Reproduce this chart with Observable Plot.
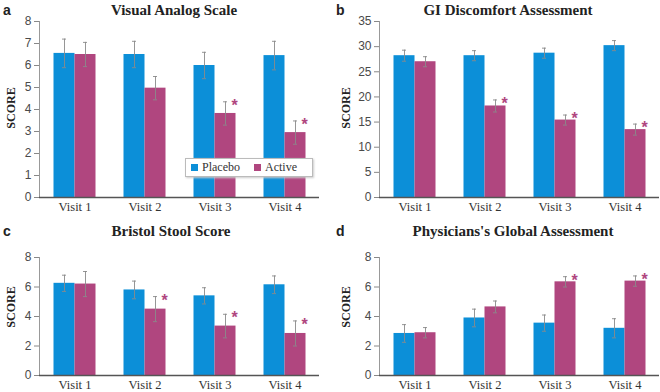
<!DOCTYPE html>
<html><head><meta charset="utf-8">
<script src="https://cdn.jsdelivr.net/npm/d3@7"></script>
<script src="https://cdn.jsdelivr.net/npm/@observablehq/plot@0.6"></script>
<style>
body{margin:0;background:#fff;}
#wrap{position:relative;width:660px;height:392px;overflow:hidden;background:#fff;}
.panel{position:absolute;}
.title{position:absolute;font:bold 15px "Liberation Serif",serif;color:#222;transform:translate(-50%,-50%);white-space:nowrap;}
.letter{position:absolute;font:bold 14px "Liberation Sans",sans-serif;color:#222;transform:translateY(-50%);}
.ylab{position:absolute;font:bold 12px "Liberation Serif",serif;color:#222;transform:translate(-50%,-50%) rotate(-90deg);white-space:nowrap;}
.legend{position:absolute;left:185px;top:158px;width:126px;height:17px;background:#fff;border:1px solid #bbb;box-shadow:1px 1px 2px #ccc;font:12px "Liberation Serif",serif;color:#333;display:flex;align-items:center;}
.legend span.sw{display:inline-block;width:7px;height:7px;margin:0 4px 0 5px;}
</style></head><body><div id="wrap"></div><script>
const visits = ["Visit 1","Visit 2","Visit 3","Visit 4"];
const groups = ["Placebo","Active"];
const colors = ["#0c8fd8","#b0467f"];

// a: Visual Analog Scale
const vasPlacebo = [6.55, 6.5, 6.0, 6.45];
const vasPlaceboErr = [0.65, 0.6, 0.6, 0.65];
const vasActive = [6.5, 4.97, 3.82, 2.95];
const vasActiveErr = [0.55, 0.53, 0.53, 0.53];
const vasSig = [false, false, true, true];
// b: GI Discomfort Assessment
const giPlacebo = [28.2, 28.2, 28.7, 30.2];
const giPlaceboErr = [1.1, 1.0, 1.0, 1.0];
const giActive = [27.0, 18.2, 15.4, 13.5];
const giActiveErr = [1.0, 1.2, 1.0, 1.1];
const giSig = [false, true, true, true];
// c: Bristol Stool Score
const bssPlacebo = [6.25, 5.8, 5.4, 6.15];
const bssPlaceboErr = [0.55, 0.6, 0.55, 0.6];
const bssActive = [6.2, 4.5, 3.35, 2.85];
const bssActiveErr = [0.85, 0.85, 0.8, 0.85];
const bssSig = [false, true, true, true];
// d: Physicians's Global Assessment
const pgaPlacebo = [2.85, 3.9, 3.55, 3.2];
const pgaPlaceboErr = [0.6, 0.6, 0.55, 0.65];
const pgaActive = [2.9, 4.65, 6.35, 6.4];
const pgaActiveErr = [0.35, 0.4, 0.35, 0.35];
const pgaSig = [false, false, true, true];

const ticksA = [0,1,2,3,4,5,6,7,8];
const ticksB = [0,5,10,15,20,25,30,35];
const ticksCD = [0,2,4,6,8];

const wrap = document.getElementById("wrap");

function panel(cfg) {
  const rows = (vals, errs, g) => visits.map((v, i) => ({visit: v, group: g, value: vals[i], err: errs[i], sig: cfg.sig[i]}));
  const P = rows(cfg.placebo, cfg.placeboErr, groups[0]);
  const A = rows(cfg.active, cfg.activeErr, groups[1]);
  const off = 10.5;
  const errMarks = (data, dx) => [
    Plot.ruleX(data, {x: "visit", y1: d => d.value - d.err, y2: d => d.value + d.err, dx, stroke: "#8a8a8a", strokeWidth: 0.9}),
    Plot.tickY(data, {x: "visit", y: d => d.value + d.err, dx, insetLeft: 8.5, insetRight: 8.5, stroke: "#8a8a8a", strokeWidth: 0.9}),
    Plot.tickY(data, {x: "visit", y: d => d.value - d.err, dx, insetLeft: 8.5, insetRight: 8.5, stroke: "#8a8a8a", strokeWidth: 0.9})
  ];
  const svg = Plot.plot({
    width: 330, height: cfg.height,
    marginLeft: cfg.marginLeft, marginRight: cfg.marginRight,
    marginTop: cfg.marginTop, marginBottom: cfg.marginBottom,
    x: {domain: visits, paddingInner: 0.7, paddingOuter: 0.35},
    y: {domain: cfg.yDomain},
    style: {background: "transparent"},
    marks: [
      Plot.frame({anchor: "left", stroke: "#999"}),
      Plot.barY(P, {x: "visit", y: "value", fill: colors[0], dx: -off}),
      Plot.barY(A, {x: "visit", y: "value", fill: colors[1], dx: off}),
      ...errMarks(P, -off),
      ...errMarks(A, off),
      Plot.text(A.filter(d => d.sig), {x: "visit", y: d => d.value + d.err, text: () => "*", dx: off + 9, dy: 4, fill: colors[1], fontSize: 16, fontWeight: "bold", fontFamily: "Liberation Sans"}),
      Plot.ruleY([0], {stroke: "#555", strokeWidth: 1.5}),
      Plot.axisY({ticks: cfg.ticks, tickSize: 5, tickPadding: 3, label: null, fontFamily: "Liberation Sans", fontSize: 12, fill: "#4a4a4a", stroke: "#888"}),
      Plot.axisX({tickSize: 0, tickPadding: 5, label: null, fontFamily: "Liberation Serif", fontSize: 12.5, fill: "#333"})
    ]
  });
  svg.classList.add("panel");
  svg.style.left = cfg.left + "px";
  svg.style.top = cfg.top + "px";
  wrap.appendChild(svg);
  const addDiv = (cls, text, x, y) => {
    const d = document.createElement("div");
    d.className = cls; d.textContent = text;
    d.style.left = x + "px"; d.style.top = y + "px";
    wrap.appendChild(d);
  };
  addDiv("letter", cfg.letter, cfg.left + cfg.letterX, cfg.top + cfg.letterY);
  addDiv("title", cfg.title, cfg.left + cfg.titleX, cfg.top + cfg.titleY);
  addDiv("ylab", "SCORE", cfg.left + cfg.ylabX, cfg.top + cfg.ylabY);
}

panel({letter: "a", title: "Visual Analog Scale", left: 0, top: 0, height: 215,
  marginLeft: 39, marginRight: 11, marginTop: 21, marginBottom: 18,
  placebo: vasPlacebo, placeboErr: vasPlaceboErr, active: vasActive, activeErr: vasActiveErr, sig: vasSig,
  yDomain: [0, 8], ticks: ticksA, letterX: 3, letterY: 10, titleX: 174, titleY: 10, ylabX: 11, ylabY: 108});
panel({letter: "b", title: "GI Discomfort Assessment", left: 330, top: 0, height: 215,
  marginLeft: 49, marginRight: 1, marginTop: 21, marginBottom: 18,
  placebo: giPlacebo, placeboErr: giPlaceboErr, active: giActive, activeErr: giActiveErr, sig: giSig,
  yDomain: [0, 35], ticks: ticksB, letterX: 6, letterY: 10, titleX: 178, titleY: 10, ylabX: 16, ylabY: 108});
panel({letter: "c", title: "Bristol Stool Score", left: 0, top: 195, height: 197,
  marginLeft: 39, marginRight: 11, marginTop: 62, marginBottom: 17,
  placebo: bssPlacebo, placeboErr: bssPlaceboErr, active: bssActive, activeErr: bssActiveErr, sig: bssSig,
  yDomain: [0, 8], ticks: ticksCD, letterX: 3, letterY: 36, titleX: 171, titleY: 36, ylabX: 11, ylabY: 112});
panel({letter: "d", title: "Physicians's Global Assessment", left: 330, top: 195, height: 197,
  marginLeft: 49, marginRight: 1, marginTop: 62, marginBottom: 17,
  placebo: pgaPlacebo, placeboErr: pgaPlaceboErr, active: pgaActive, activeErr: pgaActiveErr, sig: pgaSig,
  yDomain: [0, 8], ticks: ticksCD, letterX: 6, letterY: 36, titleX: 183, titleY: 36, ylabX: 16, ylabY: 112});

// legend (panel a)
const leg = document.createElement("div");
leg.className = "legend";
groups.forEach((g, i) => {
  const sw = document.createElement("span");
  sw.className = "sw"; sw.style.background = colors[i];
  if (i === 1) sw.style.marginLeft = "14px";
  leg.appendChild(sw);
  leg.appendChild(document.createTextNode(g));
});
wrap.appendChild(leg);
</script></body></html>
